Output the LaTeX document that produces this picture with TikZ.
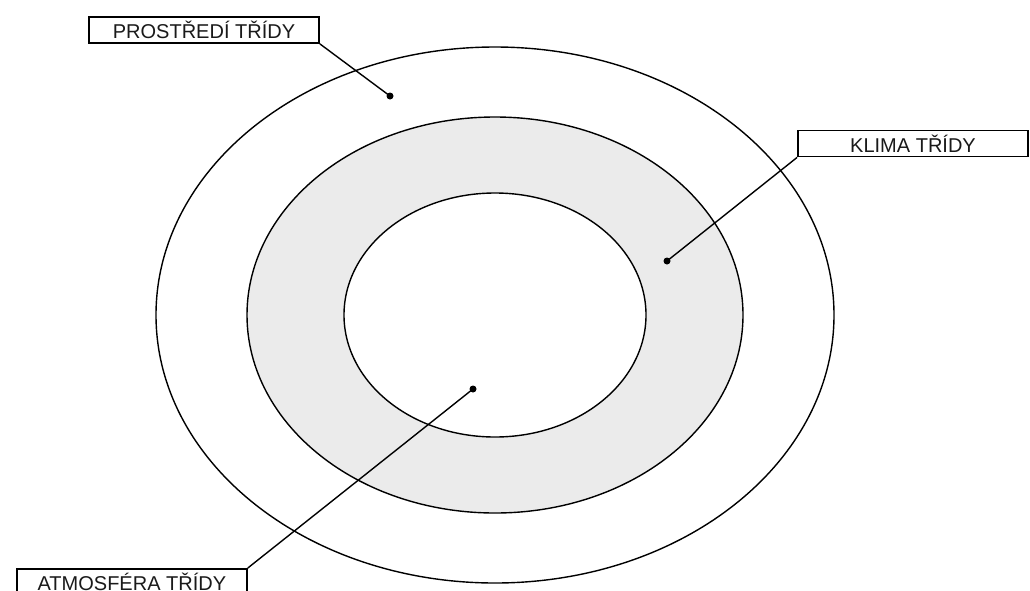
\documentclass[tikz,border=0pt]{standalone}
\usepackage{fontspec}
\setmainfont{Liberation Sans}
\definecolor{ringgray}{HTML}{EBEBEB}
\definecolor{inkgray}{HTML}{1A1A1A}
\tikzset{
  labelbox/.style={draw, line width=1.8pt, fill=white, minimum width=230pt,
    minimum height=26pt, inner sep=0pt, text=inkgray,
    font=\fontsize{20}{22}\selectfont},
  ring/.style={line width=1.4pt},
  leader/.style={line width=1.4pt},
  dot/.style={circle, fill=black, inner sep=0pt, minimum size=7pt},
}
\begin{document}
\begin{tikzpicture}[x=1pt,y=-1pt]
  \def\cx{495}
  \def\cy{315}
  \useasboundingbox (0,0) rectangle (1030,590);

  %%% rings
  \draw[ring] (\cx,\cy) ellipse [x radius=339pt, y radius=268pt];
  \draw[ring, fill=ringgray] (\cx,\cy) ellipse [x radius=248pt, y radius=198pt];
  \draw[ring, fill=white] (\cx,\cy) ellipse [x radius=151pt, y radius=122pt];

  %%% labels
  \node[labelbox] (prostredi) at (204,30) {PROSTŘEDÍ TŘÍDY};
  \node[labelbox] (klima) at (913,143.5) {KLIMA TŘÍDY};
  \node[labelbox, anchor=north west] (atmosfera) at (16,568) {ATMOSFÉRA TŘÍDY};

  %%% dots
  \node[dot] (prostrediDot) at (390,96) {};
  \node[dot] (klimaDot) at (667,261) {};
  \node[dot] (atmosferaDot) at (473,389) {};

  %%% leaders
  \draw[leader] (prostredi.south east) -- (prostrediDot.center);
  \draw[leader] (klima.south west) -- (klimaDot.center);
  \draw[leader] (atmosfera.north east) -- (atmosferaDot.center);
\end{tikzpicture}
\end{document}
